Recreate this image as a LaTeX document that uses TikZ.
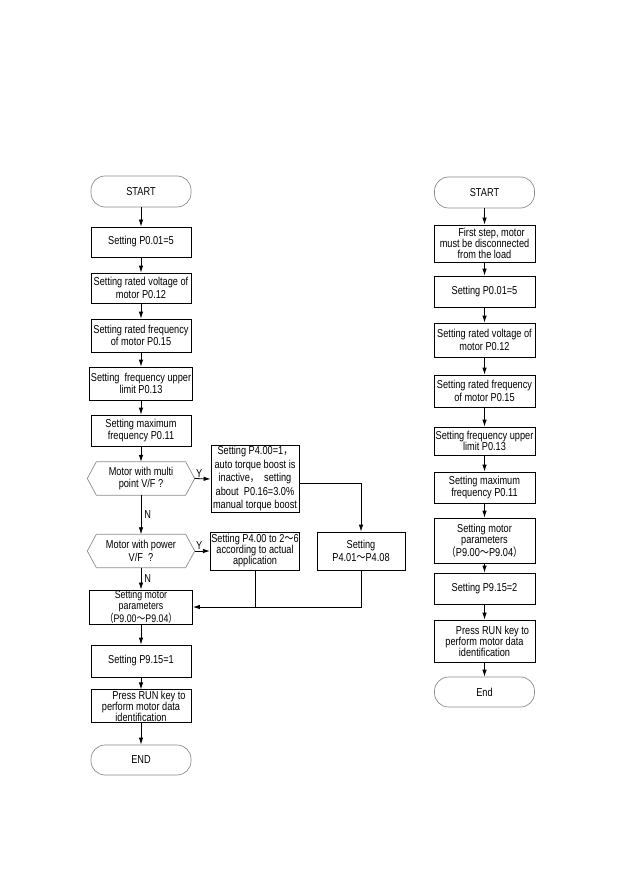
\documentclass[tikz,border=0pt]{standalone}
\usepackage{fontspec}
\setmainfont{Liberation Sans}[FakeStretch=0.8]
\newfontfamily\cjk{Noto Sans CJK SC}[FakeStretch=0.8]
\usetikzlibrary{arrows.meta,positioning}

\begin{document}
\begin{tikzpicture}[
  x=1pt, y=-1pt,
  font=\fontsize{11.5}{12.5}\selectfont,
  every node/.style={inner sep=1pt},
  blk/.style={draw, line width=0.8pt, minimum width=100pt, align=center},
  tight/.style={font=\fontsize{11.5}{11}\selectfont},
  term/.style={draw=black!45, line width=0.7pt, rounded corners=14pt,
               minimum width=100pt, minimum height=31pt},
  ask/.style={minimum width=107pt, minimum height=33pt, align=center},
  hexline/.style={draw=black!45, line width=0.7pt},
  ar/.style={-{Latex[length=7pt,width=4.5pt]}, line width=0.8pt},
  ln/.style={line width=0.8pt},
  yn/.style={inner sep=1pt},
]
\useasboundingbox (0,0) rectangle (630,893);

% =============================================================== left flow
\node[term] (start) at (141,191.5) {START};
\node[blk, minimum height=30pt] (p001) at (141,242) {Setting P0.01=5};
\node[blk, minimum height=30pt] (volt) at (141,288) {Setting rated voltage of\\motor P0.12};
\node[blk, minimum height=33pt] (freq) at (141,335.5) {Setting rated frequency\\of motor P0.15};
\node[blk, minimum height=33pt] (upper) at (141,383.5) {Setting\ \ frequency upper\\limit P0.13};
\node[blk, minimum height=31pt] (maxf) at (141,430.5) {Setting maximum\\frequency P0.11};
\node[ask] (multi) at (141,478.5) {Motor with multi\\point V/F ?};
\node[ask] (power) at (141,551) {Motor with power\\V/F\ \ ?};
\node[blk, minimum width=103pt, minimum height=30pt, font=\fontsize{11}{10.4}\selectfont] (motp) at (141,607)
  {Setting motor\\parameters\\{\cjk （}P9.00{\cjk ～}P9.04{\cjk ）}};
\node[blk, minimum height=32pt] (p915) at (141,661) {Setting P9.15=1};
\node[blk, tight, minimum height=32pt] (runl) at (141,706)
  {\hspace*{16pt}Press RUN key to\\perform motor data\\identification};
\node[term, minimum height=30pt] (endl) at (141,760) {END};

% --- decision outlines ---
\foreach \h in {multi, power}
  \draw[hexline] (\h.west) -- ([xshift=9pt]\h.north west) -- ([xshift=-9pt]\h.north east)
    -- (\h.east) -- ([xshift=-9pt]\h.south east) -- ([xshift=9pt]\h.south west) -- cycle;

\foreach \a/\b in {start/p001, p001/volt, volt/freq, freq/upper, upper/maxf,
                   maxf/multi, motp/p915, p915/runl, runl/endl}
  \draw[ar] (\a) -- (\b);

\draw[ar] (multi) -- (power) node[yn, midway, right=2pt] {N};
\draw[ar] (power) -- (motp) node[yn, midway, right=2pt] {N};

% --- the Y branches ---
\node[blk, minimum width=88pt, minimum height=64pt, font=\fontsize{11.5}{13.5}\selectfont] (boost) at (255,479)
  {Setting P4.00=1{\cjk ，}\\auto torque boost is\\inactive{\cjk ，}\ \ setting\\about\ \ P0.16=3.0\%\\manual torque boost};
\node[blk, tight, minimum width=88pt, minimum height=38pt] (apply) at (255,551)
  {Setting P4.00 to 2{\cjk ～}6\\according to actual\\application};
\node[blk, minimum width=88pt, minimum height=38pt] (range) at (361,551)
  {Setting\\P4.01{\cjk ～}P4.08};

\draw[ar] (multi.east) -- (boost.west) node[yn, at start, above right] {Y};
\draw[ar] (power.east) -- (apply.west) node[yn, at start, above right] {Y};
\draw[ar] ([yshift=-4pt]boost.east) -| (range.north);
\draw[ar] (range.south) |- (motp.east);
\draw[ln] (apply.south) -- (apply.south |- motp.east);

% =============================================================== right flow
\node[term] (startr) at (484.5,192.5) {START};
\node[blk, tight, minimum width=101pt, minimum height=37pt] (unload) at (484.5,243.5)
  {\hspace*{14pt}First step, motor\\must be disconnected\\from the load};
\node[blk, minimum width=101pt, minimum height=31pt] (p001r) at (484.5,291.5) {Setting P0.01=5};
\node[blk, minimum width=101pt, minimum height=34pt] (voltr) at (484.5,340) {Setting rated voltage of\\motor P0.12};
\node[blk, minimum width=101pt, minimum height=32pt] (freqr) at (484.5,391) {Setting rated frequency\\of motor P0.15};
\node[blk, minimum width=101pt, minimum height=28pt, tight] (upperr) at (484.5,441) {Setting frequency upper\\limit P0.13};
\node[blk, minimum width=101pt, minimum height=31pt] (maxfr) at (484.5,487.5) {Setting maximum\\frequency P0.11};
\node[blk, minimum width=101pt, minimum height=45pt, font=\fontsize{11.5}{11}\selectfont] (motpr) at (484.5,540.5)
  {Setting motor\\parameters\\{\cjk （}P9.00{\cjk ～}P9.04{\cjk ）}};
\node[blk, minimum width=101pt, minimum height=31pt] (p915r) at (484.5,588.5) {Setting P9.15=2};
\node[blk, tight, minimum width=101pt, minimum height=42pt] (runr) at (484.5,641)
  {\hspace*{16pt}Press RUN key to\\perform motor data\\identification};
\node[term, minimum height=30pt] (endr) at (484.5,692) {End};

\foreach \a/\b in {startr/unload, unload/p001r, p001r/voltr, voltr/freqr,
                   freqr/upperr, upperr/maxfr, maxfr/motpr, motpr/p915r,
                   p915r/runr, runr/endr}
  \draw[ar] (\a) -- (\b);

\end{tikzpicture}
\end{document}
